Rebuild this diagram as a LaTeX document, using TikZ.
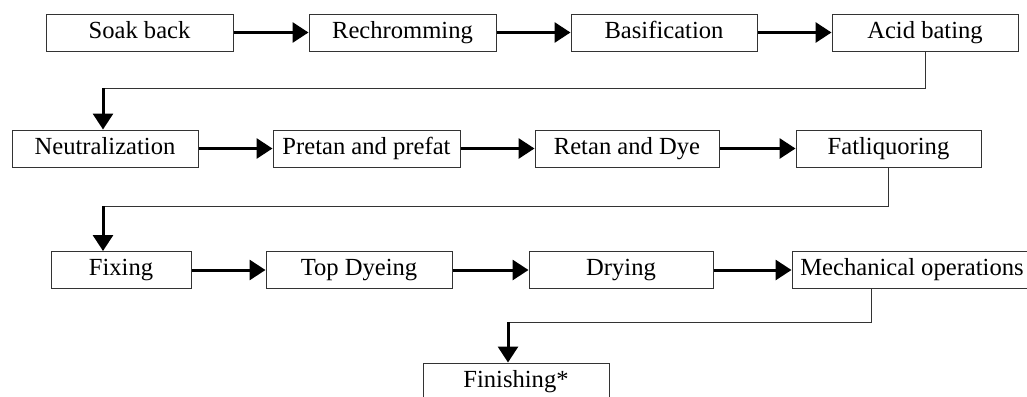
\documentclass[tikz,border=0pt]{standalone}
\usepackage{fontspec}
\setmainfont{Liberation Serif}
\usetikzlibrary{arrows.meta,positioning,calc}
\newcommand{\procbox}[4]{
  \node[procstep,minimum width=#3*0.5pt] (#1) at #2 {#4};
}

\begin{document}
\begin{tikzpicture}[x=0.5pt,y=-0.5pt,
  procstep/.style={draw=black!80,line width=0.5pt,inner sep=0pt,
    text height=12pt,text depth=6.5pt,
    font=\fontsize{12.3pt}{14pt}\selectfont},
  flow/.style={line width=1.5pt,-{Triangle[length=8pt,width=10pt]}},
  link/.style={draw=black!80,line width=0.5pt}]
  \useasboundingbox (0,0) rectangle (1027,396);

  \procbox{soak}{(139.5,32.5)}{187}{Soak back}
  \procbox{rechrome}{(402.5,32.5)}{187}{Rechromming}
  \procbox{basify}{(664,32.5)}{186}{Basification}
  \procbox{bating}{(925,32.5)}{186}{Acid bating}

  \procbox{neutral}{(105,148.5)}{186}{Neutralization}
  \procbox{pretan}{(366.5,148.5)}{187}{Pretan and prefat}
  \procbox{retan}{(627,148.5)}{184}{Retan and Dye}
  \procbox{fatliq}{(888.5,148.5)}{185}{Fatliquoring}

  \procbox{fixing}{(121,270)}{140}{Fixing}
  \procbox{topdye}{(359,270)}{186}{Top Dyeing}
  \procbox{drying}{(621,270)}{184}{Drying}
  \procbox{mech}{(912,270)}{240}{Mechanical operations}

  \procbox{finish}{(516,381.5)}{186}{Finishing*}

  % row links
  \draw[flow] (soak) -- (rechrome);
  \draw[flow] (rechrome) -- (basify);
  \draw[flow] (basify) -- (bating);
  \draw[flow] (neutral) -- (pretan);
  \draw[flow] (pretan) -- (retan);
  \draw[flow] (retan) -- (fatliq);
  \draw[flow] (fixing) -- (topdye);
  \draw[flow] (topdye) -- (drying);
  \draw[flow] (drying) -- (mech);

  % returns to the next row
  \coordinate (turnA) at (103,88);
  \coordinate (turnB) at (103,206);
  \coordinate (turnC) at (508,322);
  \draw[link] (bating.south) |- (turnA);
  \draw[flow] (turnA) -- (turnA |- neutral.north);
  \draw[link] (fatliq.south) |- (turnB);
  \draw[flow] (turnB) -- (turnB |- fixing.north);
  \draw[link] ([xshift=40pt]mech.south west) |- (turnC);
  \draw[flow] (turnC) -- (turnC |- finish.north);
\end{tikzpicture}
\end{document}
